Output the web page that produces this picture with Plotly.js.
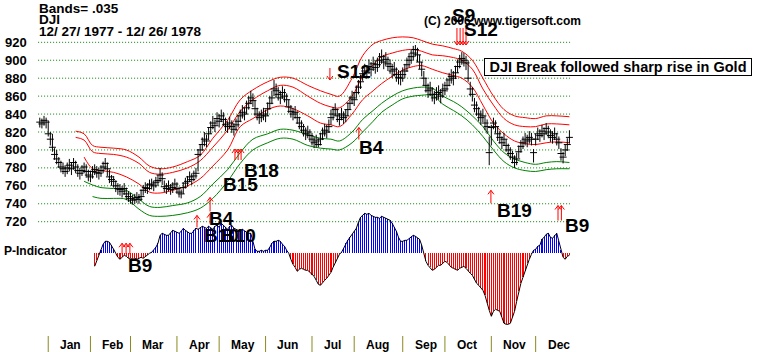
<!DOCTYPE html>
<html><head><meta charset="utf-8">
<script src="https://cdn.plot.ly/plotly-3.0.1.min.js"></script>
<style>html,body{margin:0;padding:0;background:#fff}#chart{width:758px;height:352px}</style>
</head><body><div id="chart"></div>
<script>
// ---- Daily DJI bars, 12/27/1977 .. 12/26/1978 (252 trading days) ----
const closes = [
831,829,833,831,
818,812,803,795,790,786,781,779,776,780,783,779,786,781,777,774,777,781,776,772,
770,776,778,775,774,777,781,785,779,770,767,765,760,757,756,754,757,751,748,
746,744,745,747,745,748,755,758,757,761,762,760,764,766,772,768,759,757,760,756,758,762,
757,753,751,758,763,765,770,767,771,774,795,800,806,812,810,818,825,830,827,835,
832,838,834,828,826,830,826,823,828,832,838,842,840,847,852,858,855,846,840,836,838,840,
838,846,852,858,868,866,862,858,864,860,856,848,843,840,842,836,830,826,822,818,820,816,
812,808,810,806,812,818,822,820,826,836,840,845,838,834,840,836,838,845,852,858,
856,864,870,876,885,888,886,893,890,896,892,895,900,904,898,901,896,893,888,890,884,881,880,
884,888,895,900,904,908,912,906,898,890,880,872,866,868,862,858,862,864,860,866,
868,872,878,882,880,886,893,898,902,900,897,880,868,862,850,846,840,836,838,830,826,797,
825,830,826,818,814,808,812,805,800,796,792,786,790,798,804,808,812,810,814,812,797,
812,818,816,821,818,824,820,816,814,818,812,808,796,792,800,806,814
];
const highs = [
836,835,838,836,
833,820,818,802,800,792,788,786,783,786,790,786,791,788,784,780,783,786,784,778,
777,782,784,782,780,783,787,791,786,778,772,771,766,763,762,760,763,758,754,
752,750,751,753,751,756,761,764,763,767,768,766,770,772,780,775,766,763,766,762,764,768,
764,759,756,764,769,771,776,774,777,780,801,806,814,820,817,825,832,838,834,842,
840,845,842,836,832,837,833,830,835,839,845,850,847,855,860,866,863,855,847,843,845,847,
845,853,860,866,878,874,870,866,871,868,863,856,850,847,849,843,837,833,829,825,827,823,
819,815,817,813,819,825,829,828,834,845,848,852,846,841,847,843,845,853,860,866,
864,872,878,884,893,896,894,901,898,904,900,903,908,912,906,909,904,901,896,898,892,889,888,
892,896,903,908,912,916,917,914,906,898,888,880,874,876,870,866,870,872,868,874,
876,880,886,890,888,894,901,906,909,908,905,900,876,870,858,854,848,844,846,838,834,815,
828,836,833,826,821,815,819,812,807,803,799,794,797,805,811,815,819,817,821,819,801,
818,825,823,828,825,830,827,823,821,825,819,815,802,798,806,813,822
];
const lows = [
825,824,827,824,
815,805,798,789,784,780,775,773,770,773,776,772,778,774,770,767,771,774,769,765,
764,768,772,769,767,770,774,778,771,763,760,758,753,750,749,747,750,744,742,
740,739,740,741,740,743,749,752,751,755,756,754,758,760,764,761,753,751,754,750,752,756,
751,747,746,751,757,759,764,761,765,768,776,793,799,804,803,811,818,823,820,828,
825,831,827,821,819,823,819,816,821,825,831,835,833,840,845,851,848,838,833,829,831,833,
831,838,845,851,860,858,855,851,857,853,849,841,836,833,835,829,823,819,815,811,813,809,
805,802,803,803,805,811,815,813,819,828,833,838,831,827,833,829,831,838,845,851,
849,857,862,868,877,880,879,885,882,888,885,887,892,896,890,893,888,885,880,882,876,873,872,
876,880,887,892,896,900,904,898,890,882,872,864,858,860,854,851,855,856,852,858,
861,865,871,874,872,879,886,891,895,893,889,876,860,854,842,838,832,828,831,822,818,783,
805,823,819,810,807,801,805,798,793,789,785,780,783,791,797,801,805,803,807,805,786,
805,811,809,814,811,817,813,809,807,811,805,801,788,785,793,799,807
];

// ---- Bands (at sample days) ----
const bandIdx = [17,21,25,29,35,41,47,52,57,63,70,76,82,89,95,101,108,114,120,127,133,138,142,148,153,158,162,167,172,177,181,186,191,196,200,205,210,215,220,225,230,235,240,245,251];
const bandTop = [821,818,805,803,802,800,792,782,779,781,787,794,813,833,856,867,876,881,880,872,866,862,860,880,905,918,922,925,926,925,922,918,916,913,910,900,880,860,845,838,836,835,838,838,837];
const bandR2  = [814,811,798,796,795,792,785,775,773,775,780,788,803,822,843,856,866,872,870,860,852,848,847,860,882,895,904,908,911,912,910,906,905,903,900,890,868,850,835,828,826,826,829,829,828];
const bandR3  = [null,792,779,777,775,770,762,753,752,755,760,768,782,800,826,835,845,849,846,838,830,828,826,840,856,866,874,882,889,893,894,890,886,883,880,870,850,830,818,810,807,806,808,809,808];
const bandG1  = [null,765,761,758,757,755,745,737,736,738,741,748,762,778,797,812,818,823,822,817,813,812,810,820,834,844,852,860,866,869,870,869,860,854,848,838,826,810,797,790,786,784,786,787,786];
const bandG2  = [null,null,748,746,746,745,734,727,726,727,730,735,746,765,785,800,808,813,812,805,802,801,800,808,820,832,842,850,857,860,861,861,851,844,838,828,815,800,787,780,777,776,778,779,779];

// ---- P-Indicator (starts at trading day 26) ----
const pStart = 26;
const pVals = [
-13,-7,-2,3,9,12,12,11,8,4,
0,-4,-6,-4,-2,-3,-5,-5,-6,-5,
-6,-5,-4,-5,-3,-2,0,1,3,6,
10,18,20,19,18,18,20,23,22,21,
20,22,25,23,21,20,20,23,25,24,
26,27,26,25,27,25,24,27,28,26,
30,28,26,24,27,28,25,24,23,22,
24,22,21,20,20,12,4,2,2,3,
2,3,3,6,10,12,12,13,12,9,
7,3,0,-6,-11,-14,-18,-16,-15,-16,
-17,-17,-19,-22,-23,-27,-31,-32,-29,-27,
-25,-22,-19,-14,-10,-5,-1,1,5,10,
13,16,19,22,25,31,36,38,40,39,
40,38,37,36,36,35,37,36,35,34,
33,30,26,22,16,12,12,13,13,15,
17,18,17,15,14,8,0,-8,-12,-14,
-17,-16,-14,-12,-12,-10,-8,-9,-12,-14,
-15,-16,-17,-15,-14,-13,-15,-18,-20,-22,
-26,-30,-32,-35,-37,-42,-50,-57,-63,-58,
-56,-57,-58,-64,-70,-71,-71,-70,-64,-58,
-48,-38,-30,-24,-18,-10,-6,-1,3,4,
7,8,14,16,19,20,16,15,18,20,
12,3,-4,-6,-3,-2
];

// ---- Months / ticks ----
const monthNames = ['Jan','Feb','Mar','Apr','May','Jun','Jul','Aug','Sep','Oct','Nov','Dec'];
const monthDays = [20,19,22,20,22,22,20,23,20,22,21,17];
const priorDays = 4;  // Dec 1977 trading days shown
const yTicks = [720,740,760,780,800,820,840,860,880,900,920];

// ---- Signals ----
const sigLabels = ['B9','B4','B10','B10','B15','B18','S12','B4','S9','S12','B19','B9'];
const sigLabelPos = [[47.5,671],[85.9,724],[76.9,705],[84.9,705],[95.1,761],[105.1,777],[148.9,888],[157,802.5],[200.8,950],[208.9,934],[225,733],[254.4,716]];
const sigLabelAnchor = ['center','center','left','left','center','center','center','center','center','center','center','center'];
// arrows: [dayIndex, tipPrice, shaft length px]  (positive = up arrow, negative = down arrow)
const sigArrows = [[39,696,11],[40.9,696,11],[42.7,696,11],[74.5,727,12],[80.7,729,10],[80.7,747,14],
  [92.5,801,11],[94,801,11],[95.4,801,11],[151.2,825,12],[213.8,755,13],[245.6,738,15],[247.2,738,15],
  [137.5,878,-12],[197.7,917,-17],[199.2,917,-17],[200.6,917,-17],[202,917,-17]];

const idx = closes.map((_, i) => i);
const FONT = 'Liberation Sans, Arial, Helvetica, sans-serif';
const PX_X = 2.11;      // pixels per trading day
const PX_Y = 1.1148;    // price points per pixel
const traces = [];

const bandStyles = [[bandTop,'#ff0000'],[bandR2,'#ff0000'],[bandR3,'#ff0000'],[bandG1,'#008000'],[bandG2,'#008000']];
bandStyles.forEach(([arr,col]) => traces.push({
  type:'scatter', mode:'lines', x: bandIdx, y: arr, xaxis:'x', yaxis:'y',
  line:{color:col, width:1, shape:'spline', smoothing:1}, hoverinfo:'skip'
}));

traces.push({
  type:'scatter', mode:'markers', x: idx, y: closes, xaxis:'x', yaxis:'y',
  marker:{symbol:'line-ew', size:5, color:'#000', line:{color:'#000', width:1}},
  error_y:{type:'data', symmetric:false,
    array: highs.map((h,i)=>h-closes[i]), arrayminus: lows.map((l,i)=>closes[i]-l),
    width:0, thickness:1, color:'#000'},
  hoverinfo:'skip'
});

const pIdx = pVals.map((_, k) => pStart + k);
traces.push({
  type:'bar', x: pIdx, y: pVals, xaxis:'x', yaxis:'y2', width:0.5,
  marker:{color: pVals.map(v => v >= 0 ? '#0000ff' : '#ff0000'), line:{width:0}}, hoverinfo:'skip'
});
traces.push({
  type:'scatter', mode:'lines', x: pIdx, y: pVals, xaxis:'x', yaxis:'y2',
  line:{color:'#000', width:1}, hoverinfo:'skip'
});

// signal arrows (thin shaft with open V head)
const ax = [], ay = [];
sigArrows.forEach(([i,p,len]) => {
  const s = Math.sign(len);
  const tail = p - len * PX_Y;
  const hx = 3 / PX_X, hy = 4 * PX_Y * s;
  ax.push(i, i, null, i - hx, i, i + hx, null);
  ay.push(tail, p, null, p - hy, p, p - hy, null);
});
traces.push({type:'scatter', mode:'lines', x:ax, y:ay, xaxis:'x', yaxis:'y',
  line:{color:'#ff0000', width:1}, hoverinfo:'skip', connectgaps:false});

const W = 758, H = 352;
const shapes = [];
yTicks.forEach(v => shapes.push({type:'line', xref:'x', yref:'y', x0:-0.8, x1:251.3, y0:v, y1:v,
  line:{color:'#008000', width:1, dash:'1px,2px'}, layer:'below'}));
const monthStart = [];
let acc = priorDays;
monthDays.forEach(d => { monthStart.push(acc); acc += d; });
monthStart.forEach(s => shapes.push({type:'line', xref:'x', yref:'paper', x0:s, x1:s, y0:0, y1:16/H,
  line:{color:'#8a8a20', width:1}}));

const ann = [];
const px = x => x / W, py = y => 1 - y / H;
ann.push({xref:'paper', yref:'paper', x:px(37), y:py(8.5), xanchor:'left', yanchor:'middle', showarrow:false,
  text:'<b>Bands= .035</b>', font:{family:FONT, size:13.5, color:'#000'}});
ann.push({xref:'paper', yref:'paper', x:px(37), y:py(20), xanchor:'left', yanchor:'middle', showarrow:false,
  text:'<b>DJI</b>', font:{family:FONT, size:13.5, color:'#000'}});
ann.push({xref:'paper', yref:'paper', x:px(37), y:py(31.5), xanchor:'left', yanchor:'middle', showarrow:false,
  text:'<b>12/ 27/ 1977 - 12/ 26/ 1978</b>', font:{family:FONT, size:13.5, color:'#000'}});
yTicks.forEach(v => ann.push({xref:'paper', yref:'y', x:px(28.5), y:v, xanchor:'right', yanchor:'middle', showarrow:false,
  text:'<b>'+v+'</b>', font:{family:FONT, size:13, color:'#000'}}));
monthNames.forEach((m,k) => ann.push({xref:'x', yref:'paper', x:monthStart[k]+4.7, y:py(345), xanchor:'left', yanchor:'middle',
  showarrow:false, text:'<b>'+m+'</b>', font:{family:FONT, size:12, color:'#000'}}));
ann.push({xref:'paper', yref:'paper', x:px(2), y:py(251), xanchor:'left', yanchor:'middle', showarrow:false,
  text:'<b>P-Indicator</b>', font:{family:FONT, size:12, color:'#000'}});
ann.push({xref:'paper', yref:'paper', x:px(502), y:py(21), xanchor:'center', yanchor:'middle', showarrow:false,
  text:'<b>(C) 2006 www.tigersoft.com</b>', font:{family:FONT, size:12, color:'#000'}});
ann.push({xref:'paper', yref:'paper', x:px(617.5), y:py(67), xanchor:'center', yanchor:'middle', showarrow:false,
  text:'<b>DJI Break followed sharp rise in Gold</b>', font:{family:FONT, size:14.5, color:'#000'},
  bgcolor:'#fff', bordercolor:'#000', borderwidth:1, borderpad:0, width:266, height:16});
sigLabels.forEach((t,k) => ann.push({xref:'x', yref:'y', x:sigLabelPos[k][0], y:sigLabelPos[k][1],
  xanchor:sigLabelAnchor[k], yanchor:'middle', showarrow:false, text:'<b>'+t+'</b>',
  font:{family:FONT, size:19, color:'#000'}}));

const layout = {
  width:W, height:H, margin:{l:0,r:0,t:0,b:0}, paper_bgcolor:'#fff', plot_bgcolor:'#fff', showlegend:false,
  xaxis:{range:[-18.86,340.38], visible:false, fixedrange:true},
  yaxis:{range:[574.75,967.16], visible:false, fixedrange:true},
  yaxis2:{range:[-98.7,253.3], overlaying:'y', visible:false, fixedrange:true},
  bargap:0, shapes:shapes, annotations:ann
};
Plotly.newPlot('chart', traces, layout, {staticPlot:true, displayModeBar:false});
</script></body></html>
